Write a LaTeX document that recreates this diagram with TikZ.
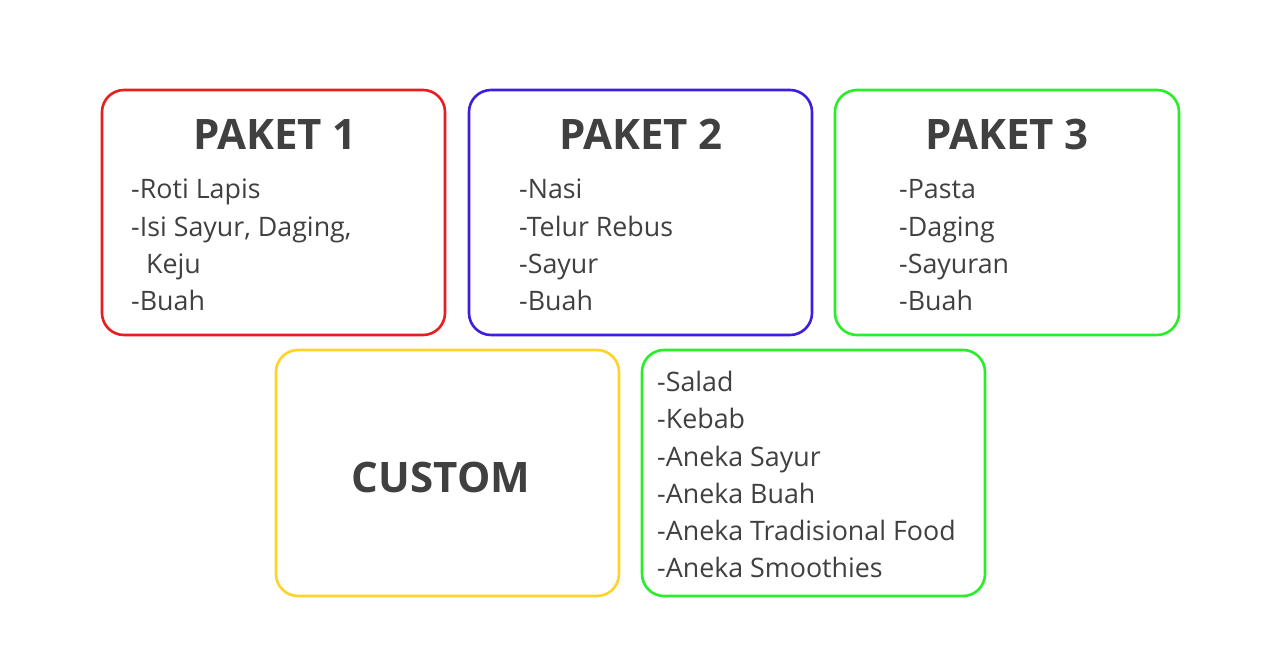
\documentclass[tikz,border=0pt]{standalone}
\usepackage{fontspec}
\setmainfont{Open Sans}
\definecolor{txt}{HTML}{404040}
\definecolor{cred}{HTML}{E81E1E}
\definecolor{cblue}{HTML}{3C1EE0}
\definecolor{cgreen}{HTML}{28EE28}
\definecolor{cyellow}{HTML}{FFD226}
\tikzset{
  card/.style={draw, line width=2.6pt, rounded corners=22pt},
  title/.style={text=txt, font=\fontsize{42}{48}\selectfont\bfseries, anchor=base, inner sep=0pt},
  item/.style={text=txt, font=\fontsize{26.8}{32}\selectfont, anchor=base west, inner sep=0pt},
}
\begin{document}
\begin{tikzpicture}[x=1pt,y=-1pt]
\useasboundingbox (0,0) rectangle (1280,654);
\fill[white] (0,0) rectangle (1280,654);
% cards
\draw[card, cred] (102,90) rectangle (445,335);
\node (c1) at (273.5,212.5) {};
\draw[card, cblue] (469,90) rectangle (812,335);
\node (c2) at (640.5,212.5) {};
\draw[card, cgreen] (835,90) rectangle (1179,335);
\node (c3) at (1007,212.5) {};
\draw[card, cyellow] (276,350) rectangle (619,596);
\node (c4) at (447.5,473) {};
\draw[card, cgreen] (642,350) rectangle (985,596);
\node (c5) at (813.5,473) {};
% titles
\node[title] (t1) at (275,149.5) {PAKET 1};
\node[title] (t2) at (641,149.5) {PAKET 2};
\node[title] (t3) at (1007,149.5) {PAKET 3};
\node[title] (t4) at (441,492.5) {CUSTOM};
% paket 1
\node[item] (p1a) at (131,198) {-Roti Lapis};
\node[item] (p1b) at (131,236) {-Isi Sayur, Daging,};
\node[item] (p1c) at (146,273) {Keju};
\node[item] (p1d) at (131,310) {-Buah};
% paket 2
\node[item] (p2a) at (519,198) {-Nasi};
\node[item] (p2b) at (519,236) {-Telur Rebus};
\node[item] (p2c) at (519,273) {-Sayur};
\node[item] (p2d) at (519,310) {-Buah};
% paket 3
\node[item] (p3a) at (899,198) {-Pasta};
\node[item] (p3b) at (899,236) {-Daging};
\node[item] (p3c) at (899,273) {-Sayuran};
\node[item] (p3d) at (899,310) {-Buah};
% list
\node[item] (l1) at (657,391) {-Salad};
\node[item] (l2) at (657,428) {-Kebab};
\node[item] (l3) at (657,466) {-Aneka Sayur};
\node[item] (l4) at (657,503) {-Aneka Buah};
\node[item] (l5) at (657,540) {-Aneka Tradisional Food};
\node[item] (l6) at (657,577) {-Aneka Smoothies};
\end{tikzpicture}
\end{document}
